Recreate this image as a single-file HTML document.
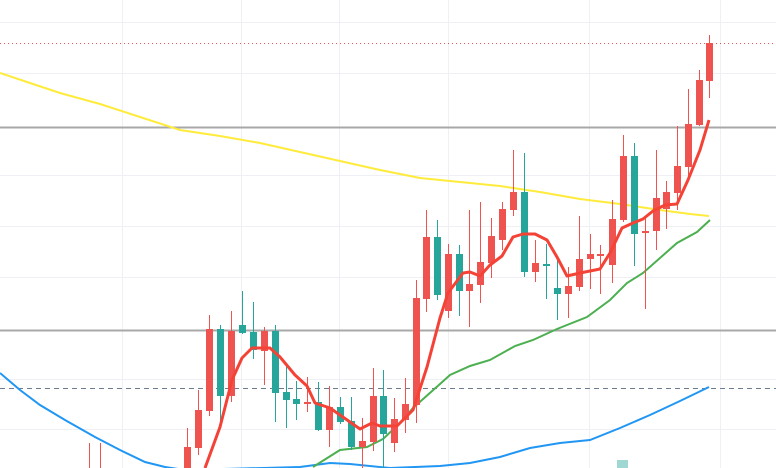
<!DOCTYPE html>
<html><head><meta charset="utf-8"><style>
html,body{margin:0;padding:0;background:#fff;width:776px;height:468px;overflow:hidden}
svg{display:block}
</style></head><body>
<svg id="s" width="776" height="468" viewBox="0 0 776 468" xmlns="http://www.w3.org/2000/svg">
<g stroke="#eef0f6" stroke-width="1">
<line x1="0" y1="22.5" x2="776" y2="22.5"/><line x1="0" y1="73.5" x2="776" y2="73.5"/>
<line x1="0" y1="175.5" x2="776" y2="175.5"/><line x1="0" y1="226.5" x2="776" y2="226.5"/>
<line x1="0" y1="277.5" x2="776" y2="277.5"/><line x1="0" y1="379.5" x2="776" y2="379.5"/>
<line x1="0" y1="429.5" x2="776" y2="429.5"/>
<line x1="122.5" y1="0" x2="122.5" y2="468"/><line x1="241.5" y1="0" x2="241.5" y2="468"/>
<line x1="339.5" y1="0" x2="339.5" y2="468"/><line x1="448.5" y1="0" x2="448.5" y2="468"/>
<line x1="589.5" y1="0" x2="589.5" y2="468"/><line x1="720.5" y1="0" x2="720.5" y2="468"/>
</g>
<line x1="0" y1="127.5" x2="776" y2="127.5" stroke="#a8a8a8" stroke-width="2"/>
<line x1="0" y1="330.5" x2="776" y2="330.5" stroke="#a8a8a8" stroke-width="2"/>
<line x1="0" y1="388.5" x2="776" y2="388.5" stroke="#6b7d8f" stroke-width="1" stroke-dasharray="5,4"/>
<line x1="0" y1="43.5" x2="776" y2="43.5" stroke="#ef5350" stroke-width="1" stroke-dasharray="1,3"/>
<rect x="617" y="460" width="11" height="8" fill="#9fd8d3"/>
<polyline fill="none" stroke="#ffeb3b" stroke-width="2" points="0,73 30,83 60,93 100,104 140,117 180,130 220,136 260,143 300,152 340,161 380,170 420,178 460,182 500,186 540,192 580,199 620,204 660,210 690,214 709,216"/>
<polyline fill="none" stroke="#2196f3" stroke-width="2" points="0,373 20,390 40,405 65,420 95,437 120,450 145,462 165,467 185,470 300,467 330,463 350,464 390,468 440,466 470,463 500,457 530,448 560,443 590,440 620,428 650,415 680,401 709,387"/>
<polyline fill="none" stroke="#4caf50" stroke-width="2" points="313,467 340,450 367,447 383,439 400,423 413,408 440,384 450,375 470,366 490,360 515,346 533,340 557,329 587,317 610,300 627,283 643,273 677,243 697,232 710,220"/>
<g id="c"></g>
<polyline fill="none" stroke="#f44336" stroke-width="3" stroke-linejoin="round" points="205,468 220,427 232,380 242,358 252,348 270,348 280,357 295,375 307,386 315,403 330,408 350,422 360,429 372,423 380,426 397,426 413,410 427,367 440,318 448,293 463,273 470,272 480,276 490,265 502,256 513,237 523,234 535,234 547,240 557,257 567,276 580,273 600,269 610,253 622,228 633,223 643,219 653,211 665,205 677,204 688,180 700,150 709,120"/>
</svg>
<script>
var R='#ef5350',T='#26a69a';
var d=[[89,R,468,468,443,468],[100,R,468,468,443,468],
[187,R,447,468,428,468],[198,R,410,448,390,455],[209,R,329,411,315,416],[220,T,329,396,325,425],[231,R,331,396,311,402],[242,T,325,333,291,334],[253,T,332,350,302,359],[264,R,331,351,327,385],[275,T,331,393,325,422],[286,T,392,400,363,428],[296,T,399,404,381,420],[307,R,402,404,377,412],[318,T,402,430,382,431],[329,R,407,430,386,447],[340,T,407,422,397,424],[351,T,421,447,397,450],[362,R,441,447,418,468],[373,R,396,442,368,451],[383,T,396,434,370,468],[394,R,419,443,398,452],[405,R,404,420,378,433],[416,R,298,405,280,423],
[426,R,237,299,210,312],[437,T,237,295,220,300],[448,R,254,311,244,318],[459,T,254,291,245,316],[469,R,284,291,210,327],[480,R,262,285,202,303],[491,R,236,263,218,278],[502,R,209,240,202,250],[513,R,192,210,150,216],[524,T,192,272,153,277],[535,R,263,272,240,282],[546,T,264,266,244,299],[557,T,288,294,257,320],[568,R,286,294,267,318],[579,R,259,287,216,291],[590,R,254,259,234,289],[600,R,254,255,245,294],[612,R,219,265,200,283],[623,R,156,220,135,222],[634,T,156,234,143,266],[645,R,231,233,217,309],[656,R,198,231,150,250],[666,R,192,209,181,229],[677,R,166,193,126,210],[688,R,124,167,89,176],[699,R,80,125,70,126],[709,R,43,81,35,98]];
var g=document.getElementById('c'),h='';
d.forEach(function(c){var x=c[0];h+='<line x1="'+(x+0.5)+'" y1="'+c[4]+'" x2="'+(x+0.5)+'" y2="'+c[5]+'" stroke="'+c[1]+'" stroke-width="1"/>';
if(c[3]>c[2]||c[3]==c[2]&&c[2]<468)h+='<rect x="'+(x-3)+'" y="'+c[2]+'" width="7" height="'+Math.max(2,c[3]-c[2])+'" fill="'+c[1]+'"/>';});
g.innerHTML=h;
</script>
</body></html>
